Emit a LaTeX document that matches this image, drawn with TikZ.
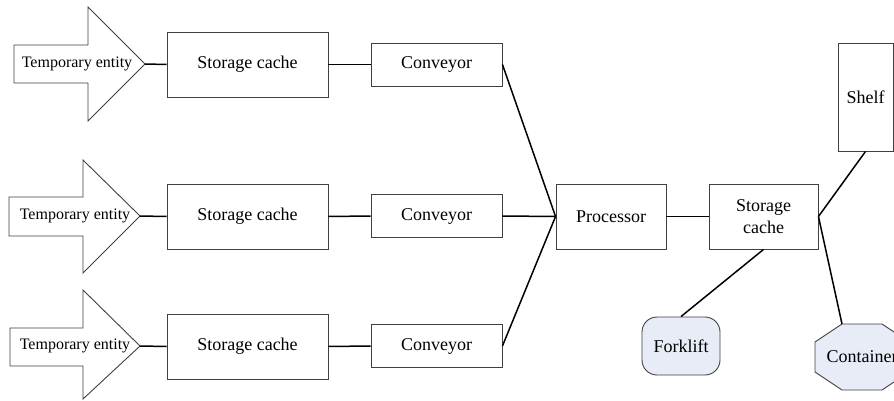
\documentclass[tikz,border=0pt]{standalone}
\usepackage{fontspec}
\setmainfont{Liberation Serif}
\definecolor{paleblue}{RGB}{232,236,247}
\begin{document}
\begin{tikzpicture}[x=1pt,y=-1pt,
  box/.style={draw=black!75,line width=0.9pt,inner sep=0pt,align=center,font=\fontsize{18}{22}\selectfont},
  arrowshape/.style={draw=black!75,line width=0.9pt,fill=white},
  arrowtext/.style={inner sep=0pt,font=\fontsize{16}{18}\selectfont},
  link/.style={draw=black,line width=1.5pt},
  equip/.style={draw=black!75,line width=0.9pt,fill=paleblue},
  equiptext/.style={inner sep=0pt,font=\fontsize{18}{22}\selectfont}]
\useasboundingbox (0,0) rectangle (894,401);
\clip (0,0) rectangle (894,401);
% input arrows
\draw[arrowshape] (14,45) -- (88,45) -- (88,7) -- (145,64) -- (88,121) -- (88,83) -- (14,83) -- cycle;
\coordinate (t1) at (145,64);
\node[arrowtext] (te1) at (77,64) {Temporary entity};
\draw[arrowshape] (9,197) -- (83,197) -- (83,160) -- (140,216) -- (83,273) -- (83,236) -- (9,236) -- cycle;
\coordinate (t2) at (140,216);
\node[arrowtext] (te2) at (75,216) {Temporary entity};
\draw[arrowshape] (10,328) -- (83,328) -- (83,290) -- (140,346) -- (83,399) -- (83,366) -- (10,366) -- cycle;
\coordinate (t3) at (140,346);
\node[arrowtext] (te3) at (75,346) {Temporary entity};
% storage caches
\node[box,minimum width=161,minimum height=65] (sc1) at (247.5,64.5) {Storage cache};
\node[box,minimum width=161,minimum height=65] (sc2) at (247.5,216.5) {Storage cache};
\node[box,minimum width=161,minimum height=65] (sc3) at (247.5,346.5) {Storage cache};
% conveyors
\node[box,minimum width=131,minimum height=43] (cv1) at (436.5,64.5) {Conveyor};
\node[box,minimum width=131,minimum height=43] (cv2) at (436.5,216) {Conveyor};
\node[box,minimum width=131,minimum height=43] (cv3) at (436.5,346) {Conveyor};
% processor and output cache
\node[box,minimum width=110,minimum height=65] (proc) at (611,216.5) {Processor};
\node[box,minimum width=109,minimum height=65] (sco) at (763.5,216.5) {Storage\\cache};
% shelf
\node[box,minimum width=55,minimum height=108] (shelf) at (865.5,97) {Shelf};
% forklift
\node[equip,rounded corners=15pt,minimum width=78,minimum height=58,inner sep=0pt,font=\fontsize{18}{22}\selectfont] (fork) at (681,346) {Forklift};
% container
\draw[equip] (815,342) -- (842,324) -- (882,324) -- (909,342) -- (909,372) -- (882,390) -- (842,390) -- (815,372) -- cycle;
\coordinate (contv) at (842,324);
\node[equiptext] (cont) at (862,357) {Container};
% connectors
\draw[link] (t1) -- (sc1.west);
\draw[link] (t2) -- (sc2.west);
\draw[link] (t3) -- (sc3.west);
\draw[link] (sc1.east) -- (cv1.west);
\draw[link] (sc2.east) -- (cv2.west);
\draw[link] (sc3.east) -- (cv3.west);
\draw[link] (cv1.east) -- (proc.west);
\draw[link] (cv2.east) -- (proc.west);
\draw[link] (cv3.east) -- (proc.west);
\draw[link] (proc.east) -- (sco.west);
\draw[link] (shelf.south) -- (sco.east);
\draw[link] (contv) -- (sco.east);
\draw[link] (fork.north) -- (sco.south);
\end{tikzpicture}
\end{document}
